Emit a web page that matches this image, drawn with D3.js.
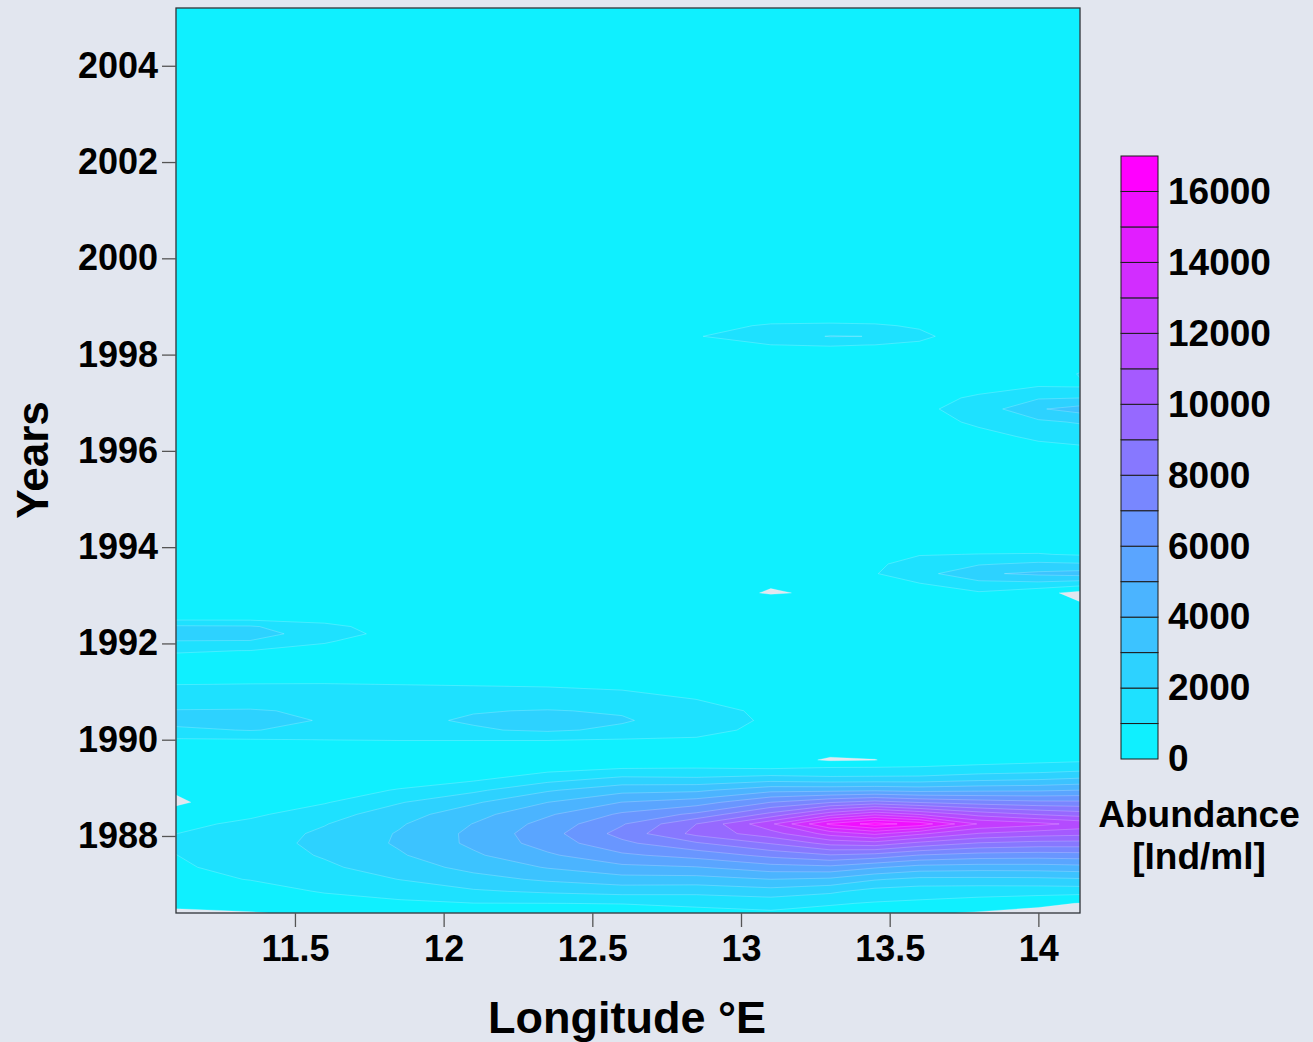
<!DOCTYPE html>
<html>

<head>
    <meta charset="utf-8">
    <style>
        body { margin: 0; background: #e2e6ef; }
        svg { display: block; }
        text { font-family: "Liberation Sans", Arial, sans-serif; font-weight: bold; fill: #000; }
    </style>
</head>

<body>
    <script src="https://d3js.org/d3.v7.min.js"></script>
    <div id="chart"></div>
    <script>
        // grid: one row per year, one column per longitude
        const longitudes = [11.10, 11.35, 11.60, 11.85, 12.10, 12.35, 12.60, 12.85, 13.10, 13.30, 13.45, 13.60, 13.80, 14.00, 14.14]
        const years = [1986.40, 1986.60, 1986.85, 1987.10, 1987.35, 1987.60, 1987.85, 1988.05, 1988.25, 1988.45,
            1988.70, 1988.95, 1989.20, 1989.42, 1989.58, 1989.80, 1990.00, 1990.20, 1990.40, 1990.60,
            1990.85, 1991.15, 1991.50, 1991.85, 1992.05, 1992.20, 1992.35, 1992.55, 1992.85, 1993.05,
            1993.25, 1993.45, 1993.65, 1993.85, 1994.10, 1995.00, 1996.00, 1996.30, 1996.60, 1996.87,
            1997.10, 1997.35, 1997.60, 1997.90, 1998.20, 1998.38, 1998.60, 1998.85, 2000.00, 2002.50, 2005.20]
        const abundance = [
            [-200, -50, 150, 350, 350, 500, 550, 700, 850, 650, 300, 150, -100, -400, -700],
            [250, 300, 500, 800, 980, 990, 1030, 1195, 1385, 1096, 920, 820, 600, 300, -50],
            [500, 550, 1087, 1437, 1870, 2151, 2372, 2310, 2580, 2195, 1616, 1430, 1378, 1373, 1384],
            [700, 1036, 1487, 2014, 2643, 3167, 3591, 3587, 3998, 3809, 3094, 2737, 2720, 2763, 2879],
            [880, 1293, 1826, 2504, 3308, 4072, 4747, 4948, 5578, 5740, 5127, 4610, 4489, 4514, 4640],
            [990, 1491, 2090, 2891, 3843, 4842, 5820, 6384, 7289, 7919, 7637, 6953, 6563, 6481, 6562],
            [1100, 1600, 2240, 3125, 4205, 5440, 6772, 7874, 9077, 10330, 10594, 9723, 8918, 8639, 8614],
            [990, 1511, 2172, 3079, 4231, 5620, 7350, 9300, 10581, 12398, 13228, 12204, 10943, 10469, 10310],
            [700, 1244, 1952, 2885, 4028, 5357, 6905, 9000, 11800, 15200, 16400, 15600, 12900, 12300, 11700],
            [350, 800, 1579, 2548, 3629, 4865, 6169, 7216, 9317, 11604, 12796, 11934, 10626, 9916, 9543],
            [-150, 600, 920, 1925, 2861, 3997, 5020, 5508, 7006, 7919, 8392, 7930, 7515, 7260, 7216],
            [100, 450, 500, 1077, 1792, 2884, 3673, 3797, 4695, 4726, 4835, 4664, 4794, 4853, 5018],
            [400, 450, 450, 450, 750, 1538, 2168, 2092, 2384, 2195, 2217, 2241, 2562, 2752, 3006],
            [450, 450, 450, 450, 450, 600, 900, 950, 850, 1020, 1040, 1070, 1183, 1311, 1497],
            [450, 450, 450, 450, 450, 450, 500, 450, 450, -120, -30, 500, 700, 800, 850],
            [450, 450, 450, 450, 450, 450, 450, 450, 450, 350, 450, 450, 450, 450, 500],
            [900, 950, 1010, 1050, 1050, 1050, 950, 900, 600, 450, 450, 450, 450, 450, 450],
            [1800, 2050, 1700, 1600, 1900, 2150, 1800, 1300, 750, 450, 450, 450, 450, 450, 450],
            [2350, 2250, 1950, 1800, 2100, 2350, 2100, 1500, 850, 450, 450, 450, 450, 450, 450],
            [2050, 2080, 1850, 1750, 1950, 2050, 1900, 1350, 800, 450, 450, 450, 450, 450, 450],
            [1500, 1500, 1450, 1420, 1450, 1450, 1300, 980, 650, 450, 450, 450, 450, 450, 450],
            [990, 1010, 1020, 990, 950, 900, 800, 650, 500, 450, 450, 450, 450, 450, 450],
            [700, 650, 550, 500, 450, 450, 450, 450, 450, 450, 450, 450, 450, 450, 450],
            [1050, 990, 700, 450, 450, 450, 450, 450, 450, 450, 450, 450, 450, 450, 450],
            [1990, 1980, 1100, 450, 450, 450, 450, 450, 450, 450, 450, 450, 450, 450, 450],
            [2350, 2250, 1700, 450, 450, 450, 450, 450, 450, 450, 450, 450, 450, 450, 450],
            [2150, 2100, 1300, 450, 450, 450, 450, 450, 450, 450, 450, 450, 450, 450, 450],
            [450, 450, 450, 450, 450, 450, 450, 450, 450, 450, 450, 450, 450, 450, 450],
            [450, 450, 450, 450, 450, 450, 450, 450, 450, 450, 450, 450, 450, 450, 30],
            [450, 450, 450, 450, 450, 450, 450, 450, -80, 150, 450, 450, 900, 300, -300],
            [450, 450, 450, 450, 450, 450, 450, 450, 100, 450, 600, 990, 1700, 1800, 1500],
            [450, 450, 450, 450, 450, 450, 450, 450, 450, 450, 950, 1600, 2850, 3200, 3400],
            [450, 450, 450, 450, 450, 450, 450, 450, 450, 450, 850, 1350, 1900, 2200, 2100],
            [450, 450, 450, 450, 450, 450, 450, 450, 450, 450, 550, 950, 1020, 1050, 900],
            [450, 450, 450, 450, 450, 450, 450, 450, 450, 450, 450, 450, 450, 450, 450],
            [450, 450, 450, 450, 450, 450, 450, 450, 450, 450, 450, 450, 450, 450, 450],
            [450, 450, 450, 450, 450, 450, 450, 450, 450, 450, 450, 450, 450, 700, 800],
            [450, 450, 450, 450, 450, 450, 450, 450, 450, 450, 450, 450, 750, 1150, 1300],
            [450, 450, 450, 450, 450, 450, 450, 450, 450, 450, 450, 650, 1150, 1800, 2100],
            [450, 450, 450, 450, 450, 450, 450, 450, 450, 450, 450, 800, 1400, 2900, 3400],
            [450, 450, 450, 450, 450, 450, 450, 450, 450, 450, 450, 650, 1150, 1900, 1990],
            [450, 450, 450, 450, 450, 450, 450, 450, 450, 450, 450, 450, 650, 950, 900],
            [450, 450, 450, 450, 450, 450, 450, 450, 450, 450, 450, 450, 450, 450, 1050],
            [450, 450, 450, 450, 450, 450, 450, 450, 450, 450, 450, 450, 450, 450, 450],
            [450, 450, 450, 450, 450, 450, 450, 700, 990, 1050, 990, 850, 450, 450, 450],
            [450, 450, 450, 450, 450, 450, 450, 950, 1500, 2050, 1980, 1200, 450, 450, 450],
            [450, 450, 450, 450, 450, 450, 450, 700, 1100, 1150, 1100, 900, 450, 450, 450],
            [450, 450, 450, 450, 450, 450, 450, 450, 450, 450, 450, 450, 450, 450, 450],
            [450, 450, 450, 450, 450, 450, 450, 450, 450, 450, 450, 450, 450, 450, 450],
            [450, 450, 450, 450, 450, 450, 450, 450, 450, 450, 450, 450, 450, 450, 450],
            [450, 450, 450, 450, 450, 450, 450, 450, 450, 450, 450, 450, 450, 450, 450]
        ]
        const levels = [0, 1000, 2000, 3000, 4000, 5000, 6000, 7000, 8000, 9000, 10000, 11000, 12000, 13000, 14000, 15000, 16000]
        const levelTop = 17000
        const xTicks = [11.5, 12, 12.5, 13, 13.5, 14]
        const yTicks = [1988, 1990, 1992, 1994, 1996, 1998, 2000, 2002, 2004]
        const legendTicks = [0, 2000, 4000, 6000, 8000, 10000, 12000, 14000, 16000]

        const width = 1313
        const height = 1042
        const plot = { left: 176, top: 8, right: 1080, bottom: 913 }

        const bandColor = (i) => d3.interpolateRgb("#00ffff", "#ff00ff")((i + 1) / levels.length)

        const svg = d3.select("#chart").append("svg")
            .attr("width", width)
            .attr("height", height)

        const x = d3.scaleLinear()
            .domain([longitudes[0], longitudes[longitudes.length - 1]])
            .range([plot.left, plot.right])

        const y = d3.scaleLinear()
            .domain([years[0], years[years.length - 1]])
            .range([plot.bottom, plot.top])

        // grid index -> longitude / year (grid is not evenly spaced)
        const lonAt = d3.scaleLinear().domain(d3.range(longitudes.length)).range(longitudes).clamp(true)
        const yearAt = d3.scaleLinear().domain(d3.range(years.length)).range(years).clamp(true)

        const contours = d3.contours()
            .size([longitudes.length, years.length])
            .thresholds(levels)(abundance.flat())

        const project = d3.geoTransform({
            point: function (px, py) {
                this.stream.point(x(lonAt(px - 0.5)), y(yearAt(py - 0.5)))
            }
        })
        const path = d3.geoPath(project)

        svg.append("clipPath")
            .attr("id", "plot-clip")
            .append("rect")
            .attr("x", plot.left)
            .attr("y", plot.top)
            .attr("width", plot.right - plot.left)
            .attr("height", plot.bottom - plot.top)

        svg.append("g")
            .attr("clip-path", "url(#plot-clip)")
            .selectAll("path")
            .data(contours)
            .join("path")
            .attr("d", path)
            .attr("fill", (d, i) => bandColor(i))
            .attr("stroke", "rgba(255,255,255,0.3)")
            .attr("stroke-width", 0.7)

        svg.append("rect")
            .attr("x", plot.left)
            .attr("y", plot.top)
            .attr("width", plot.right - plot.left)
            .attr("height", plot.bottom - plot.top)
            .attr("fill", "none")
            .attr("stroke", "#2e3438")
            .attr("stroke-width", 1.3)

        const xAxis = svg.append("g")
            .attr("transform", "translate(0," + plot.bottom + ")")
            .call(d3.axisBottom(x).tickValues(xTicks).tickSize(14).tickPadding(8).tickFormat(d => d))
        const yAxis = svg.append("g")
            .attr("transform", "translate(" + plot.left + ",0)")
            .call(d3.axisLeft(y).tickValues(yTicks).tickSize(14).tickPadding(4).tickFormat(d => d))

        for (const axis of [xAxis, yAxis]) {
            axis.select(".domain").remove()
            axis.selectAll(".tick line").attr("stroke", "#555").attr("stroke-width", 1.3)
            axis.selectAll(".tick text")
                .attr("fill", "#000")
                .style("font-family", "'Liberation Sans', Arial, sans-serif")
                .style("font-weight", "bold")
                .style("font-size", "36px")
        }

        svg.append("text")
            .attr("transform", "translate(48,460) rotate(-90)")
            .attr("text-anchor", "middle")
            .style("font-size", "44px")
            .text("Years")

        svg.append("text")
            .attr("x", 627)
            .attr("y", 1033)
            .attr("text-anchor", "middle")
            .style("font-size", "45px")
            .text("Longitude °E")

        // colour bar
        const cb = d3.scaleLinear().domain([0, levelTop]).range([759, 156])
        const bar = svg.append("g")
        bar.selectAll("rect")
            .data(levels)
            .join("rect")
            .attr("x", 1121)
            .attr("width", 37)
            .attr("y", d => cb(d + 1000))
            .attr("height", d => cb(d) - cb(d + 1000))
            .attr("fill", (d, i) => bandColor(i))
            .attr("stroke", "#1c1c1c")
            .attr("stroke-width", 1)

        const barAxis = svg.append("g")
            .attr("transform", "translate(1158,0)")
            .call(d3.axisRight(cb).tickValues(legendTicks).tickSize(0).tickPadding(10).tickFormat(d3.format("d")))
        barAxis.select(".domain").remove()
        barAxis.selectAll(".tick text")
            .attr("fill", "#000")
            .style("font-family", "'Liberation Sans', Arial, sans-serif")
            .style("font-weight", "bold")
            .style("font-size", "37px")

        svg.append("text")
            .attr("x", 1199)
            .attr("y", 827)
            .attr("text-anchor", "middle")
            .style("font-size", "37px")
            .text("Abundance")
        svg.append("text")
            .attr("x", 1199)
            .attr("y", 869)
            .attr("text-anchor", "middle")
            .style("font-size", "37px")
            .text("[Ind/ml]")
    </script>
</body>

</html>
